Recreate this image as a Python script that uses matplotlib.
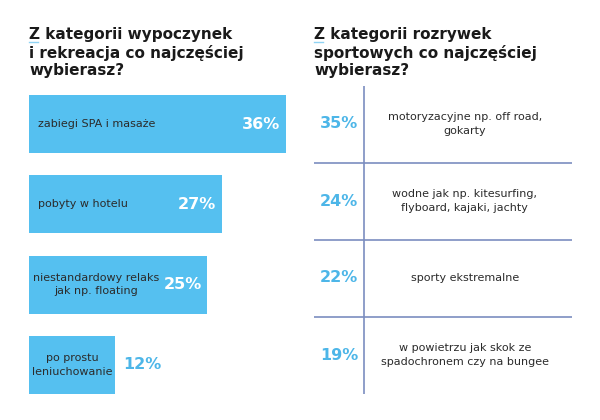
import matplotlib.pyplot as plt
import numpy as np

# Data
left_title = 'Z kategorii wypoczynek\ni rekreacja co najczęściej\nwybierasz?'
left_labels = ['zabiegi SPA i masaże', 'pobyty w hotelu',
               'niestandardowy relaks\njak np. floating',
               'po prostu\nleniuchowanie']
left_values = [36, 27, 25, 12]

right_title = 'Z kategorii rozrywek\nsportowych co najczęściej\nwybierasz?'
right_labels = ['motoryzacyjne np. off road,\ngokarty',
                'wodne jak np. kitesurfing,\nflyboard, kajaki, jachty',
                'sporty ekstremalne',
                'w powietrzu jak skok ze\nspadochronem czy na bungee']
right_values = [35, 24, 22, 19]

bar_color = '#55C0F0'
pct_blue = '#4DB6E8'
line_color = '#7B8DC0'
text_dark = '#2B2B2B'

plt.rcParams['font.family'] = ['DejaVu Sans']

W, H = 600, 420
fig = plt.figure(figsize=(6, 4.2), dpi=100)


def fx(px):
    return px / W


def fy(py):
    return 1 - py / H


# titles
for x0 in (29, 314):
    title = left_title if x0 == 29 else right_title
    fig.text(fx(x0), fy(27), title, fontsize=11, fontweight='bold',
             color='#1A1A1A', va='top', ha='left', linespacing=1.2)
    # light blue underline under the leading "Z"
    fig.add_artist(plt.Line2D([fx(x0), fx(x0 + 9)], [fy(42), fy(42)],
                              color='#8FD3F4', lw=1.0))

# left: horizontal bars
ax = fig.add_axes([fx(29), fy(405), fx(40 * 7.14), 321 / H])
y = np.arange(len(left_values))
ax.barh(y, left_values, height=0.72, color=bar_color, left=0)
ax.set_xlim(0, 40)
ax.set_ylim(3.5, -0.5)
ax.axis('off')

for i, (lab, v) in enumerate(zip(left_labels, left_values)):
    if v >= 20:
        # label inside bar, value in white at bar end
        if '\n' in lab:
            ax.text(v * 0.375, i, lab, ha='center', va='center', fontsize=8,
                    color=text_dark, linespacing=1.45)
        else:
            ax.text(1.2, i, lab, ha='left', va='center', fontsize=8,
                    color=text_dark)
        ax.text(v - 0.8, i, f'{v}%', ha='right', va='center', fontsize=11.5,
                fontweight='bold', color='white')
    else:
        ax.text(v / 2, i, lab, ha='center', va='center', fontsize=8,
                color=text_dark, linespacing=1.45)
        ax.text(v + 1.2, i, f'{v}%', ha='left', va='center', fontsize=11.5,
                fontweight='bold', color=pct_blue)

# right: table-like list
ax2 = fig.add_axes([fx(314), fy(393.5), fx(258), 308 / H])
ax2.set_xlim(0, 1)
ax2.set_ylim(3.5, -0.5)
ax2.axis('off')
ax2.axvline(0.194, color=line_color, lw=1.2)
for k in range(len(right_values) - 1):
    ax2.axhline(k + 0.5, color=line_color, lw=1.2)
for i, (lab, v) in enumerate(zip(right_labels, right_values)):
    ax2.text(0.097, i, f'{v}%', ha='center', va='center', fontsize=11.5,
             fontweight='bold', color=pct_blue)
    ax2.text(0.585, i, lab, ha='center', va='center', fontsize=8,
             color=text_dark, linespacing=1.4)

fig.savefig('out.png', dpi=100, facecolor='white')
